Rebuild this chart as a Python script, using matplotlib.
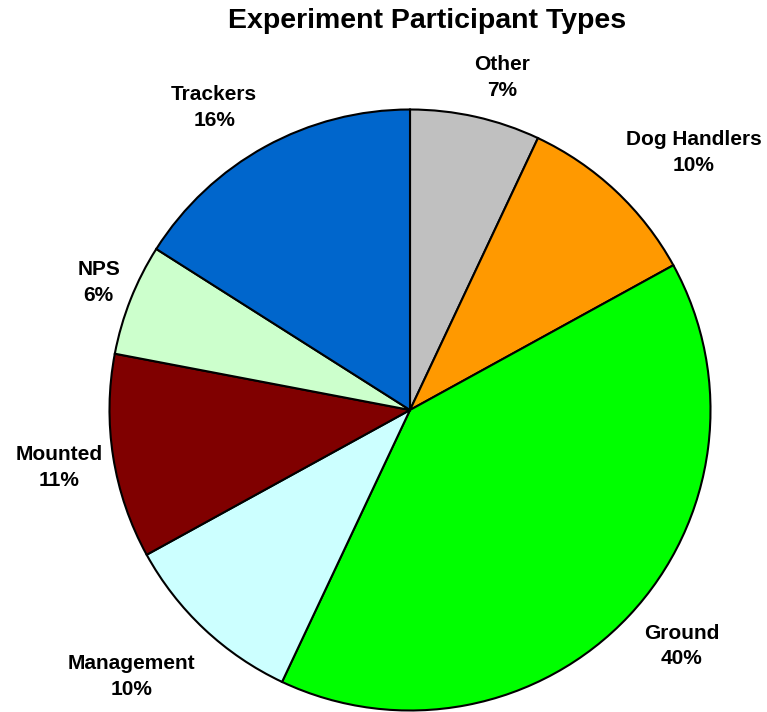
import matplotlib
matplotlib.use("Agg")
import matplotlib.pyplot as plt

plt.rcParams['font.family'] = ['Liberation Sans', 'DejaVu Sans']

categories = ["Other", "Dog Handlers", "Ground", "Management", "Mounted", "NPS", "Trackers"]
percents = [7, 10, 40, 10, 11, 6, 16]
colors = ["#C0C0C0", "#FF9900", "#00FF00", "#CCFFFF", "#800000", "#CCFFCC", "#0066CC"]
# label centres in units of the pie radius, relative to the pie centre
label_xy = [(0.305, 1.106), (0.944, 0.858), (0.904, -0.785), (-0.927, -0.887),
            (-1.169, -0.192), (-1.036, 0.424), (-0.652, 1.007)]

fig = plt.figure(figsize=(7.67, 7.12), dpi=100)
ax = fig.add_axes([108 / 767, 0.0, 604 / 767, 604 / 712])

wedges, _ = ax.pie(percents, colors=colors, startangle=90, counterclock=False,
                   wedgeprops=dict(edgecolor="black", linewidth=1.5), radius=1.0)

for name, pct, (x, y) in zip(categories, percents, label_xy):
    ax.text(x, y, f"{name}\n{pct}%", ha="center", va="center",
            fontsize=15, fontweight="bold", linespacing=1.45, clip_on=False)

ax.set_xlim(-1.005, 1.005)
ax.set_ylim(-1.005, 1.005)
ax.set_aspect("equal")
ax.axis("off")

fig.text(427 / 767, 1 - 21 / 712, "Experiment Participant Types",
         ha="center", va="center", fontsize=20.5, fontweight="bold")

fig.savefig("out.png", dpi=100, facecolor="white")
